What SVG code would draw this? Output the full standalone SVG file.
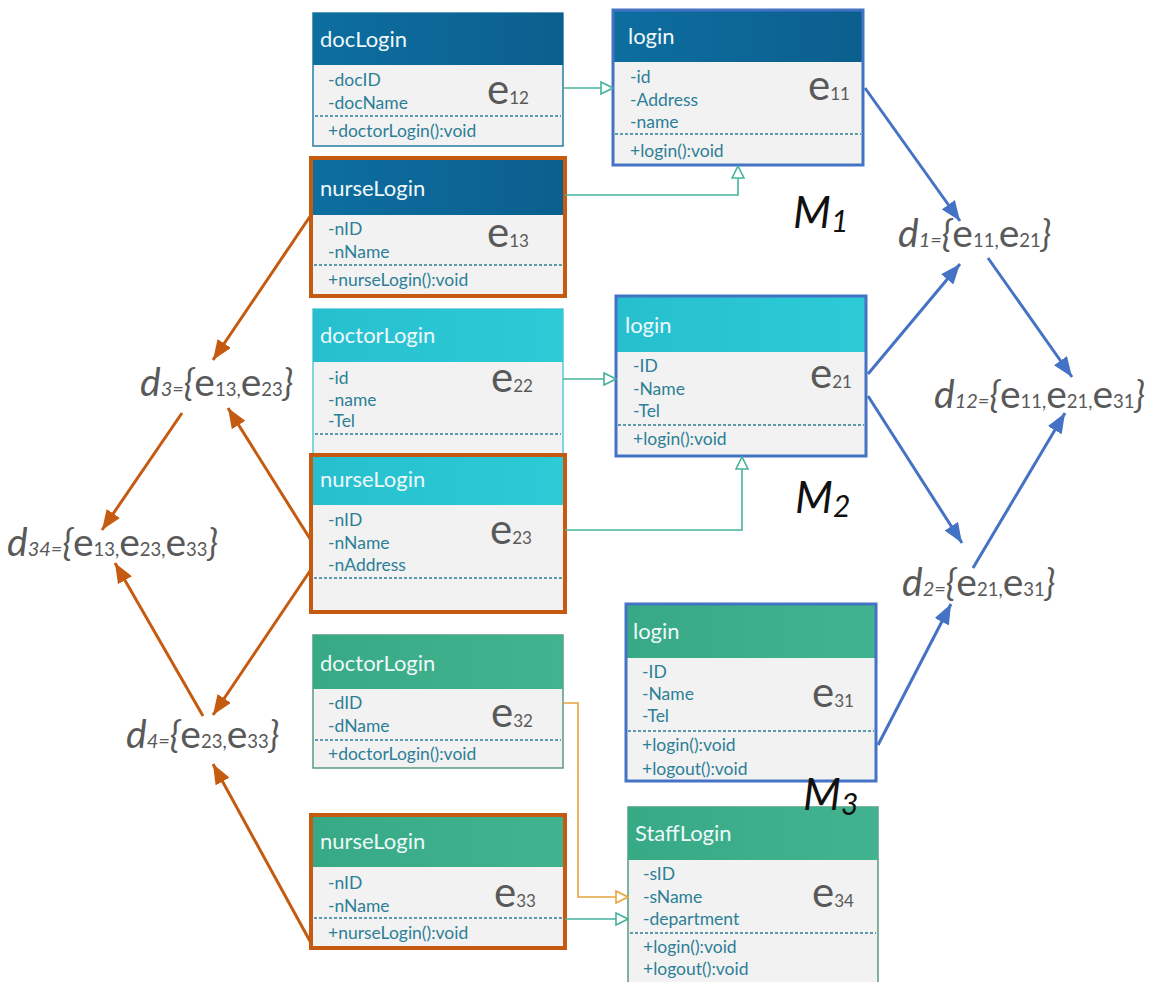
<svg xmlns="http://www.w3.org/2000/svg" width="1149" height="982" viewBox="0 0 1149 982">
  <defs>
    <linearGradient id="gDark" x1="0" y1="0" x2="1" y2="0">
      <stop offset="0" stop-color="#0d6ea0"/>
      <stop offset="1" stop-color="#0b5f8e"/>
    </linearGradient>
    <linearGradient id="gCyan" x1="0" y1="0" x2="1" y2="0">
      <stop offset="0" stop-color="#27bfcf"/>
      <stop offset="1" stop-color="#2ccbd6"/>
    </linearGradient>
    <linearGradient id="gGreen" x1="0" y1="0" x2="1" y2="0">
      <stop offset="0" stop-color="#38a985"/>
      <stop offset="1" stop-color="#41b48f"/>
    </linearGradient>
    <marker id="aBlue" viewBox="0 0 20 16" refX="20" refY="8" markerWidth="20" markerHeight="16" markerUnits="userSpaceOnUse" orient="auto">
      <path d="M0,0 L20,8 L0,16 Z" fill="#4472c4"/>
    </marker>
    <marker id="aOrange" viewBox="0 0 20 16" refX="20" refY="8" markerWidth="20" markerHeight="16" markerUnits="userSpaceOnUse" orient="auto">
      <path d="M0,0 L20,8 L0,16 Z" fill="#c55a11"/>
    </marker>
    <marker id="hTeal" viewBox="0 0 14 14" refX="13" refY="7" markerWidth="14" markerHeight="14" markerUnits="userSpaceOnUse" orient="auto">
      <path d="M1,1 L13,7 L1,13 Z" fill="#ffffff" stroke="#45b29d" stroke-width="1.6"/>
    </marker>
    <marker id="hGold" viewBox="0 0 14 14" refX="13" refY="7" markerWidth="14" markerHeight="14" markerUnits="userSpaceOnUse" orient="auto">
      <path d="M1,1 L13,7 L1,13 Z" fill="#ffffff" stroke="#e8a33c" stroke-width="1.6"/>
    </marker>
  </defs>
  <style>
    .body { fill: #f2f2f2; }
    .hdr { font-family: Lato, "Liberation Sans", sans-serif; font-size: 22px; fill: #eef8fa; }
    .att { font-family: Lato, "Liberation Sans", sans-serif; font-size: 17.5px; fill: #2d7f96; }
    .dash { stroke: #2d7f96; stroke-width: 1.5; stroke-dasharray: 3 2; }
    .eLbl { font-family: Lato, "Liberation Sans", sans-serif; fill: #595959; }
    .eBig { font-size: 42px; }
    .eSub { font-size: 17px; }
    .dLbl { font-family: Lato, "Liberation Sans", sans-serif; fill: #595959; }
    .dd { font-size: 39px; font-style: italic; }
    .ds { font-size: 20px; font-style: italic; }
    .db { font-size: 37px; font-style: italic; }
    .de { font-size: 39px; }
    .dn { font-size: 18.5px; }
    .mLbl { font-family: Lato, "Liberation Sans", sans-serif; font-style: italic; fill: #111111; font-size: 44px; }
    .bBlue { fill: none; stroke: #4472c4; stroke-width: 3; }
    .bOrange { fill: none; stroke: #c55a11; stroke-width: 4; }
    .blue { stroke: #4472c4; stroke-width: 3; fill: none; marker-end: url(#aBlue); }
    .orange { stroke: #c55a11; stroke-width: 3; fill: none; marker-end: url(#aOrange); }
    .teal { stroke: #45b29d; stroke-width: 1.6; fill: none; marker-end: url(#hTeal); }
    .gold { stroke: #e8a33c; stroke-width: 1.6; fill: none; marker-end: url(#hGold); }
  </style>

  <rect width="1149" height="982" fill="#ffffff"/>

  <!-- classes -->
  <g id="docLogin_e12">
    <rect class="body" x="313" y="13" width="250" height="133" stroke="#2a7ca6" stroke-width="1.5"/>
    <rect x="313" y="13" width="250" height="52" fill="url(#gDark)"/>
    <text class="hdr" x="320" y="47">docLogin</text>
    <text class="att" x="328" y="86">-docID</text>
    <text class="att" x="328" y="109">-docName</text>
    <line class="dash" x1="315" y1="116" x2="561" y2="116"/>
    <text class="att" x="328" y="137">+doctorLogin():void</text>
    <text class="eLbl" x="487" y="104"><tspan class="eBig">e</tspan><tspan class="eSub">12</tspan></text>
  </g>

  <g id="login_e11">
    <rect class="body" x="613" y="10" width="250" height="155"/>
    <rect x="613" y="10" width="250" height="52" fill="url(#gDark)"/>
    <rect class="bBlue" x="613" y="10" width="250" height="155"/>
    <text class="hdr" x="628" y="44">login</text>
    <text class="att" x="630" y="83">-id</text>
    <text class="att" x="630" y="106">-Address</text>
    <text class="att" x="630" y="128">-name</text>
    <line class="dash" x1="615" y1="134" x2="861" y2="134"/>
    <text class="att" x="630" y="157">+login():void</text>
    <text class="eLbl" x="808" y="100"><tspan class="eBig">e</tspan><tspan class="eSub">11</tspan></text>
  </g>

  <g id="nurseLogin_e13">
    <rect class="body" x="311" y="158" width="254" height="138"/>
    <rect x="311" y="158" width="254" height="57" fill="url(#gDark)"/>
    <rect class="bOrange" x="311" y="158" width="254" height="138"/>
    <text class="hdr" x="320" y="196">nurseLogin</text>
    <text class="att" x="328" y="235">-nID</text>
    <text class="att" x="328" y="258">-nName</text>
    <line class="dash" x1="314" y1="265" x2="562" y2="265"/>
    <text class="att" x="328" y="286">+nurseLogin():void</text>
    <text class="eLbl" x="487" y="247"><tspan class="eBig">e</tspan><tspan class="eSub">13</tspan></text>
  </g>

  <g id="doctorLogin_e22">
    <rect class="body" x="313" y="309" width="250" height="150" stroke="#5bc8d6" stroke-width="1.5"/>
    <rect x="313" y="309" width="250" height="53" fill="url(#gCyan)"/>
    <text class="hdr" x="320" y="343">doctorLogin</text>
    <text class="att" x="328" y="384">-id</text>
    <text class="att" x="328" y="406">-name</text>
    <text class="att" x="328" y="427">-Tel</text>
    <line class="dash" x1="315" y1="434" x2="561" y2="434"/>
    <text class="eLbl" x="491" y="392"><tspan class="eBig">e</tspan><tspan class="eSub">22</tspan></text>
  </g>

  <g id="login_e21">
    <rect class="body" x="616" y="296" width="250" height="160"/>
    <rect x="616" y="296" width="250" height="56" fill="url(#gCyan)"/>
    <rect class="bBlue" x="616" y="296" width="250" height="160"/>
    <text class="hdr" x="625" y="333">login</text>
    <text class="att" x="633" y="372">-ID</text>
    <text class="att" x="633" y="395">-Name</text>
    <text class="att" x="633" y="417">-Tel</text>
    <line class="dash" x1="618" y1="425" x2="864" y2="425"/>
    <text class="att" x="633" y="445">+login():void</text>
    <text class="eLbl" x="810" y="388"><tspan class="eBig">e</tspan><tspan class="eSub">21</tspan></text>
  </g>

  <g id="nurseLogin_e23">
    <rect class="body" x="311" y="455" width="254" height="157"/>
    <rect x="311" y="455" width="254" height="50" fill="url(#gCyan)"/>
    <rect class="bOrange" x="311" y="455" width="254" height="157"/>
    <text class="hdr" x="320" y="487">nurseLogin</text>
    <text class="att" x="328" y="526">-nID</text>
    <text class="att" x="328" y="549">-nName</text>
    <text class="att" x="328" y="571">-nAddress</text>
    <line class="dash" x1="314" y1="578" x2="562" y2="578"/>
    <text class="eLbl" x="490" y="544"><tspan class="eBig">e</tspan><tspan class="eSub">23</tspan></text>
  </g>

  <g id="doctorLogin_e32">
    <rect class="body" x="313" y="635" width="250" height="133" stroke="#5a9a80" stroke-width="1.5"/>
    <rect x="313" y="635" width="250" height="54" fill="url(#gGreen)"/>
    <text class="hdr" x="320" y="671">doctorLogin</text>
    <text class="att" x="328" y="709">-dID</text>
    <text class="att" x="328" y="732">-dName</text>
    <line class="dash" x1="315" y1="740" x2="561" y2="740"/>
    <text class="att" x="328" y="760">+doctorLogin():void</text>
    <text class="eLbl" x="491" y="727"><tspan class="eBig">e</tspan><tspan class="eSub">32</tspan></text>
  </g>

  <g id="login_e31">
    <rect class="body" x="626" y="604" width="250" height="177"/>
    <rect x="626" y="604" width="250" height="54" fill="url(#gGreen)"/>
    <rect class="bBlue" x="626" y="604" width="250" height="177"/>
    <text class="hdr" x="633" y="639">login</text>
    <text class="att" x="642" y="678">-ID</text>
    <text class="att" x="642" y="700">-Name</text>
    <text class="att" x="642" y="722">-Tel</text>
    <line class="dash" x1="628" y1="731" x2="874" y2="731"/>
    <text class="att" x="642" y="751">+login():void</text>
    <text class="att" x="642" y="775">+logout():void</text>
    <text class="eLbl" x="812" y="707"><tspan class="eBig">e</tspan><tspan class="eSub">31</tspan></text>
  </g>

  <g id="nurseLogin_e33">
    <rect class="body" x="311" y="815" width="254" height="133"/>
    <rect x="311" y="815" width="254" height="52" fill="url(#gGreen)"/>
    <rect class="bOrange" x="311" y="815" width="254" height="133"/>
    <text class="hdr" x="320" y="849">nurseLogin</text>
    <text class="att" x="328" y="889">-nID</text>
    <text class="att" x="328" y="912">-nName</text>
    <line class="dash" x1="314" y1="918" x2="562" y2="918"/>
    <text class="att" x="328" y="939">+nurseLogin():void</text>
    <text class="eLbl" x="494" y="907"><tspan class="eBig">e</tspan><tspan class="eSub">33</tspan></text>
  </g>

  <g id="StaffLogin_e34">
    <rect class="body" x="628" y="807" width="250" height="185" stroke="#5a9a80" stroke-width="1.5"/>
    <rect x="628" y="807" width="250" height="53" fill="url(#gGreen)"/>
    <text class="hdr" x="635" y="841">StaffLogin</text>
    <text class="att" x="643" y="880">-sID</text>
    <text class="att" x="643" y="903">-sName</text>
    <text class="att" x="643" y="925">-department</text>
    <line class="dash" x1="630" y1="933" x2="876" y2="933"/>
    <text class="att" x="643" y="953">+login():void</text>
    <text class="att" x="643" y="975">+logout():void</text>
    <text class="eLbl" x="812" y="907"><tspan class="eBig">e</tspan><tspan class="eSub">34</tspan></text>
  </g>

  <!-- model labels -->
  <text class="mLbl" x="793" y="228">M<tspan font-size="30" dy="4">1</tspan></text>
  <text class="mLbl" x="795" y="513">M<tspan font-size="30" dy="4">2</tspan></text>
  <text class="mLbl" x="803" y="810">M<tspan font-size="30" dy="5">3</tspan></text>

  <!-- derived sets -->
  <g id="d1">
    <text class="dLbl" x="898" y="247"><tspan class="dd">d</tspan><tspan class="ds">1=</tspan><tspan class="db">{</tspan><tspan class="de">e</tspan><tspan class="dn">11,</tspan><tspan class="de">e</tspan><tspan class="dn">21</tspan><tspan class="db">}</tspan></text>
  </g>
  <g id="d12">
    <text class="dLbl" x="934" y="408"><tspan class="dd">d</tspan><tspan class="ds">12=</tspan><tspan class="db">{</tspan><tspan class="de">e</tspan><tspan class="dn">11,</tspan><tspan class="de">e</tspan><tspan class="dn">21,</tspan><tspan class="de">e</tspan><tspan class="dn">31</tspan><tspan class="db">}</tspan></text>
  </g>
  <g id="d2">
    <text class="dLbl" x="902" y="596"><tspan class="dd">d</tspan><tspan class="ds">2=</tspan><tspan class="db">{</tspan><tspan class="de">e</tspan><tspan class="dn">21,</tspan><tspan class="de">e</tspan><tspan class="dn">31</tspan><tspan class="db">}</tspan></text>
  </g>
  <g id="d3">
    <text class="dLbl" x="140" y="396"><tspan class="dd">d</tspan><tspan class="ds">3=</tspan><tspan class="db">{</tspan><tspan class="de">e</tspan><tspan class="dn">13,</tspan><tspan class="de">e</tspan><tspan class="dn">23</tspan><tspan class="db">}</tspan></text>
  </g>
  <g id="d34">
    <text class="dLbl" x="7" y="556"><tspan class="dd">d</tspan><tspan class="ds">34=</tspan><tspan class="db">{</tspan><tspan class="de">e</tspan><tspan class="dn">13,</tspan><tspan class="de">e</tspan><tspan class="dn">23,</tspan><tspan class="de">e</tspan><tspan class="dn">33</tspan><tspan class="db">}</tspan></text>
  </g>
  <g id="d4">
    <text class="dLbl" x="126" y="748"><tspan class="dd">d</tspan><tspan class="ds">4=</tspan><tspan class="db">{</tspan><tspan class="de">e</tspan><tspan class="dn">23,</tspan><tspan class="de">e</tspan><tspan class="dn">33</tspan><tspan class="db">}</tspan></text>
  </g>

  <!-- connectors -->
  <g id="connectors">
    <path class="teal" d="M563,88 L613,88"/>
    <path class="teal" d="M565,195 L738,195 L738,166"/>
    <path class="teal" d="M563,379 L616,379"/>
    <path class="teal" d="M565,530 L742,530 L742,457"/>
    <path class="gold" d="M563,703 L578,703 L578,897 L628,897"/>
    <path class="teal" d="M565,919 L628,919"/>

    <path class="blue" d="M865,88 L960,221"/>
    <path class="blue" d="M868,374 L960,264"/>
    <path class="blue" d="M988,258 L1072,377"/>
    <path class="blue" d="M868,396 L962,543"/>
    <path class="blue" d="M973,568 L1065,413"/>
    <path class="blue" d="M878,745 L951,604"/>

    <path class="orange" d="M311,215 L213,360"/>
    <path class="orange" d="M182,413 L102,530"/>
    <path class="orange" d="M312,542 L228,408"/>
    <path class="orange" d="M312,568 L213,715"/>
    <path class="orange" d="M203,716 L115,563"/>
    <path class="orange" d="M311,943 L213,764"/>
  </g>
</svg>
